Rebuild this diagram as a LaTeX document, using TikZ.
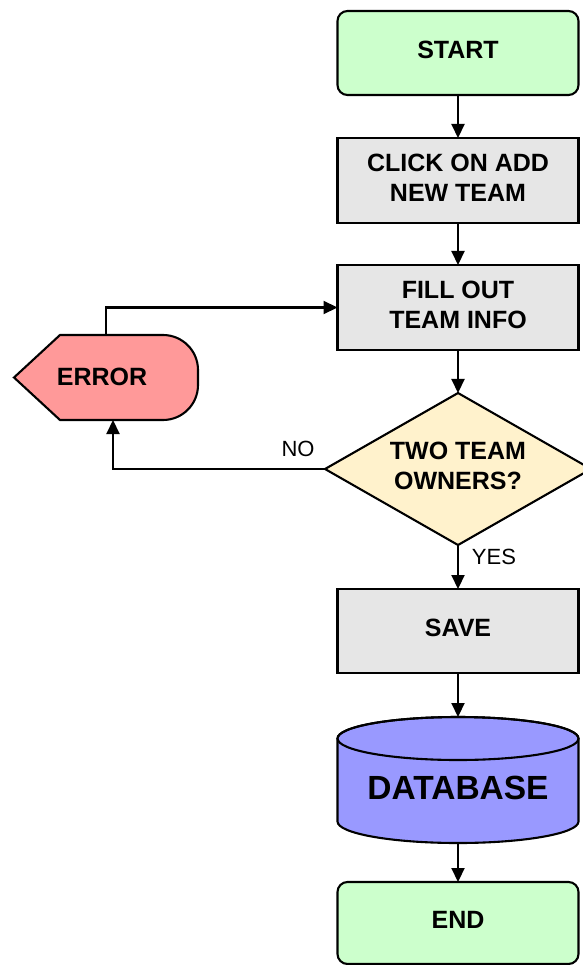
\documentclass[tikz,border=0pt]{standalone}
\usepackage{fontspec}
\setmainfont{Liberation Sans}
\usetikzlibrary{shapes.geometric,arrows.meta}
\definecolor{termgreen}{HTML}{CCFFCC}
\definecolor{procgray}{HTML}{E6E6E6}
\definecolor{decyellow}{HTML}{FFF2CC}
\definecolor{errred}{HTML}{FF9999}
\definecolor{dbblue}{HTML}{9999FF}
\newcommand\lowstrut{\rule[-6pt]{0pt}{6pt}}
\begin{document}
\begin{tikzpicture}[x=1pt,y=1pt,
  lw/.style={line width=2.1pt},
  bigfont/.style={font=\bfseries\fontsize{25}{30}\selectfont},
  base/.style={lw,draw=black,text=black,bigfont,align=center,inner sep=0pt,outer sep=0pt,execute at end node=\lowstrut},
  term/.style={base,rounded corners=10pt,fill=termgreen,minimum width=241pt},
  proc/.style={base,fill=procgray,minimum width=241pt,minimum height=85pt},
  dec/.style={base,diamond,fill=decyellow,minimum width=266pt,minimum height=152pt,aspect=1.75},
  txt/.style={text=black,bigfont,inner sep=0pt,outer sep=0pt,align=center},
  lbl/.style={text=black,font=\fontsize{22}{26}\selectfont,inner sep=0pt},
  arr/.style={lw,draw=black,-{Triangle[length=14pt,width=13pt]}},
]
\useasboundingbox (0,0) rectangle (582,-965);

% shapes drawn directly
\filldraw[lw,fill=errred,draw=black,line join=miter]
  (14,-377.5) -- (60,-335) -- (163,-335) arc[start angle=90,end angle=0,radius=35]
  -- (198,-385) arc[start angle=0,end angle=-90,radius=35] -- (60,-420) -- cycle;
\filldraw[lw,fill=dbblue,draw=black]
  (337.5,-738.5) -- (337.5,-821.5) arc[start angle=180,end angle=360,x radius=120.5,y radius=21.5]
  -- (578.5,-738.5) arc[start angle=0,end angle=180,x radius=120.5,y radius=21.5] -- cycle;
\draw[lw] (458,-738.5) ellipse[x radius=120.5,y radius=21.5];

% nodes
\node[term,minimum height=84pt] (start) at (458,-53) {START};
\node[proc] (click) at (458,-180.5) {CLICK ON ADD\\NEW TEAM};
\node[proc] (fill) at (458,-307.5) {FILL OUT\\TEAM INFO};
\node[dec] (dec) at (458,-469) {TWO TEAM\\OWNERS?};
\node[proc,minimum height=84pt] (save) at (458,-631) {SAVE};
\node[txt,font=\bfseries\fontsize{33.5}{38}\selectfont,minimum width=241pt,minimum height=126pt,
      text height=40pt,text depth=2pt] (db) at (458,-780) {DATABASE};
\node[term,minimum height=82pt] (end) at (458,-923) {END};
\node[txt,minimum width=184pt,minimum height=85pt,text height=20pt,text depth=4pt] (err) at (106,-377.5) {\hspace*{-8pt}ERROR};

\node[lbl] (no) at (298,-449) {NO};
\node[lbl] (yes) at (494,-557) {YES};

% connectors
\draw[arr] (start) -- (click);
\draw[arr] (click) -- (fill);
\draw[arr] (fill) -- (dec);
\draw[arr] (dec) -- (save);
\draw[arr] (save) -- (db);
\draw[arr] (db) -- (end);
\draw[arr] (dec.west) -| ([xshift=7pt]err.south);
\draw[arr] (err.north) |- (fill.west);
\end{tikzpicture}
\end{document}
